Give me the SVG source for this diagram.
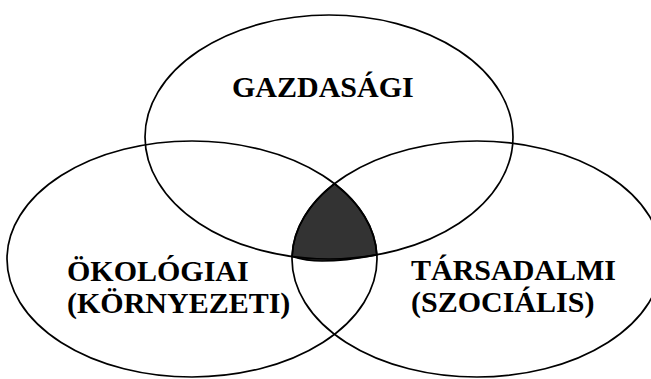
<svg xmlns="http://www.w3.org/2000/svg" width="651" height="379" viewBox="0 0 651 379">
<style>
.ring{fill:none;stroke:#000;stroke-width:1.7}
.lbl{font-family:"Liberation Serif","Times New Roman",serif;font-weight:bold;font-size:30px;fill:#000}
.core{fill:#333;stroke:#000;stroke-width:1.7;stroke-linejoin:round}
</style>
<rect width="651" height="379" fill="#fff"/>
<g id="intersection">
<path class="core" d="M 334.5 183.7 A 185 118 0 0 1 376.8 254.8 C 360 258, 340 261, 322 261 C 308 261, 300 259, 292.1 256.5 A 185 118 0 0 1 334.5 183.7 Z"/>
</g>
<g id="gazdasagi">
<ellipse class="ring" cx="329" cy="137" rx="184" ry="122"/>
<text class="lbl" x="232" y="97">GAZDASÁGI</text>
</g>
<g id="okologiai">
<ellipse class="ring" cx="192" cy="259" rx="185" ry="118"/>
<text class="lbl" x="67" y="281">ÖKOLÓGIAI</text>
<text class="lbl" x="67" y="313">(KÖRNYEZETI)</text>
</g>
<g id="tarsadalmi">
<ellipse class="ring" cx="477" cy="259" rx="185" ry="118"/>
<text class="lbl" x="411" y="280">TÁRSADALMI</text>
<text class="lbl" x="411" y="312">(SZOCIÁLIS)</text>
</g>
<g id="connectors"/>
</svg>
